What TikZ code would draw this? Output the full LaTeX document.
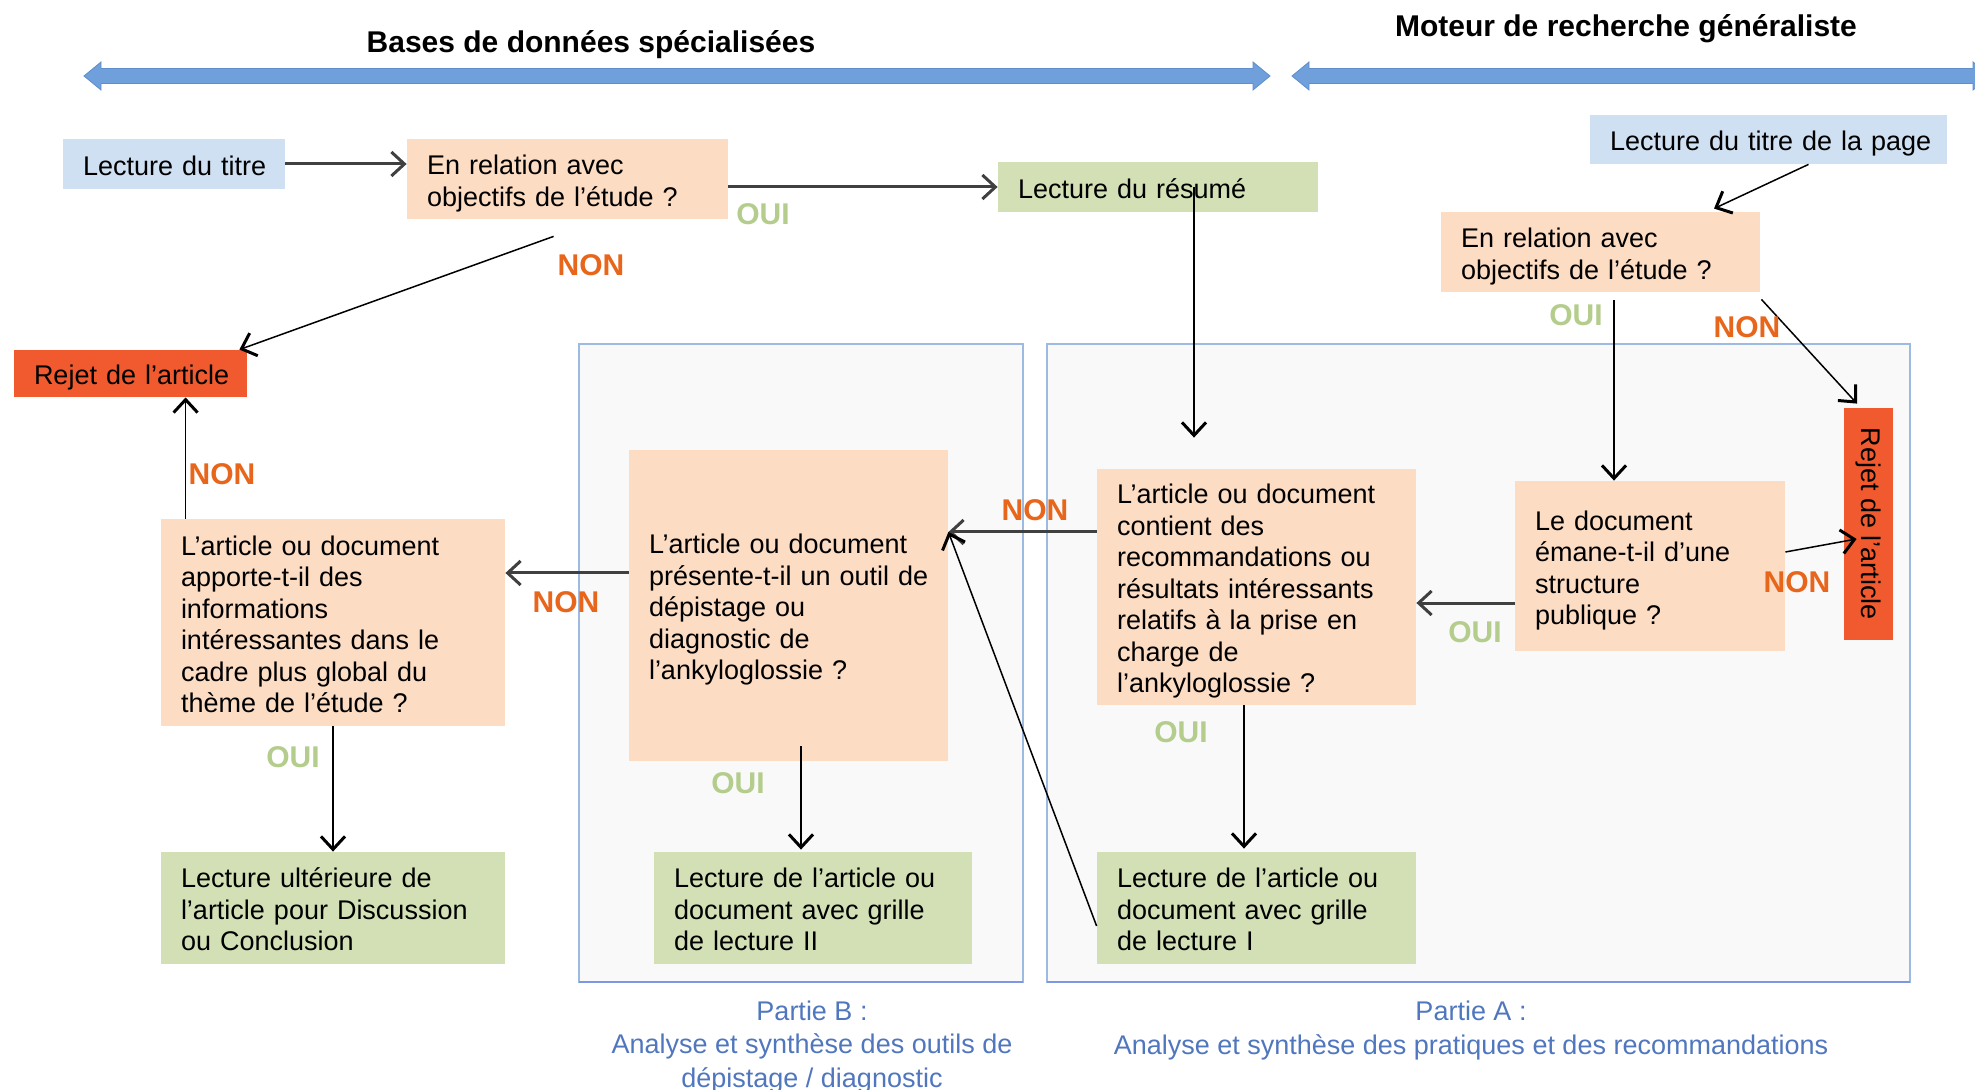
\documentclass[tikz,border=0pt]{standalone}
\usepackage{fontspec}
\setmainfont{Liberation Sans}
\usetikzlibrary{arrows.meta,calc}
\definecolor{peach}{HTML}{FCDCC3}
\definecolor{lblue}{HTML}{CFE0F2}
\definecolor{lgreen}{HTML}{D3E0B5}
\definecolor{rejred}{HTML}{F05A2E}
\definecolor{framefill}{HTML}{F9F9FA}
\definecolor{frameline}{HTML}{9DBBE0}
\definecolor{ouicol}{HTML}{B4CD8C}
\definecolor{noncol}{HTML}{E8661C}
\definecolor{capblue}{HTML}{5077BE}
\definecolor{bigarrow}{HTML}{70A0DC}
\definecolor{bigarrowline}{HTML}{5E8ECC}
\hbadness=10000 \hfuzz=200pt
\tikzset{
  basebox/.style={inner xsep=10pt, inner ysep=0pt, align=left,
    font=\fontsize{13.5}{15.75}\selectfont},
  qbox/.style={basebox, fill=peach},
  tbox/.style={basebox, fill=lblue},
  gbox/.style={basebox, fill=lgreen},
  rbox/.style={basebox, fill=rejred},
  arr/.style={draw=black, line width=0.75pt,
    -{Straight Barb[length=6.5pt,width=12pt,line width=1.5pt]}},
  arrT/.style={arr, line width=1.5pt, draw=black!75},
  ouilabel/.style={text=ouicol, font=\fontsize{15}{16}\selectfont\bfseries},
  nonlabel/.style={text=noncol, font=\fontsize{15}{16}\selectfont\bfseries},
  captext/.style={text=capblue, align=center, font=\fontsize{13.5}{16.7}\selectfont},
  htitle/.style={font=\fontsize{15}{17}\selectfont\bfseries},
  frbox/.style={fill=framefill, draw=frameline, line width=1pt},
}
\newcommand\boxnode[7]{%
  \pgfmathsetmacro\bw{(#4-#2)*0.5}%
  \pgfmathsetmacro\bh{(#5-#3)*0.5}%
  \pgfmathsetmacro\tw{(#4-#2)*0.5-20}%
  \node[#6, minimum width=\bw pt, minimum height=\bh pt, text width=\tw pt]
    (#1) at ({(#2+#4)/2},{(#3+#5)/2})
    {\raisebox{-2.5pt}[\height][\depth]{\begin{tabular}{@{}l@{}}#7\end{tabular}}};}
\newcommand\blockarrow[2]{%
  \fill[bigarrow, draw=bigarrowline, line width=0.4pt]
    (#1,76) -- (#1+17,62) -- (#1+17,68.5) -- (#2-17,68.5) -- (#2-17,62) -- (#2,76)
    -- (#2-17,90) -- (#2-17,83.5) -- (#1+17,83.5) -- (#1+17,90) -- cycle;}
\begin{document}
\begin{tikzpicture}[x=0.5pt,y=-0.5pt]
\useasboundingbox (0,0) rectangle (1975,1090);
\clip (0,0) rectangle (1975,1090);
\fill[white] (0,0) rectangle (1975,1090);

% headers
\node[htitle] (h1) at (591,45) {Bases de données spécialisées};
\node[htitle] (h2) at (1626,29) {Moteur de recherche généraliste};
\blockarrow{84}{1270}
\blockarrow{1292}{1990}

% frames
\draw[frbox] (579,344) rectangle (1023,982);
\draw[frameline!80!blue, line width=1.2pt] (579,982) -- (1023,982);
\draw[frbox] (1047,344) rectangle (1910,982);
\draw[frameline!80!blue, line width=1.2pt] (1047,982) -- (1910,982);

% boxes
\boxnode{tit1}{63}{139}{285}{189}{tbox}{Lecture du titre}
\boxnode{rel1}{407}{139}{728}{219}{qbox}{En relation avec\\objectifs de l'étude ?}
\boxnode{resume}{998}{162}{1318}{212}{gbox}{Lecture du résumé}
\boxnode{rej1}{14}{350}{247}{397}{rbox}{Rejet de l'article}
\boxnode{qL}{161}{519}{505}{726}{qbox}{L’article ou document\\apporte-t-il des\\informations\\intéressantes dans le\\cadre plus global du\\thème de l'étude ?}
\boxnode{lecU}{161}{852}{505}{964}{gbox}{Lecture ultérieure de\\l'article pour Discussion\\ou Conclusion}
\boxnode{qB}{629}{450}{948}{761}{qbox}{L’article ou document\\présente-t-il un outil de\\dépistage ou\\diagnostic de\\l'ankyloglossie ?}
\boxnode{lecII}{654}{852}{972}{964}{gbox}{Lecture de l'article ou\\document avec grille\\de lecture II}
\boxnode{qA}{1097}{469}{1416}{705}{qbox}{L’article ou document\\contient des\\recommandations ou\\résultats intéressants\\relatifs à la prise en\\charge de\\l'ankyloglossie ?}
\boxnode{lecI}{1097}{852}{1416}{964}{gbox}{Lecture de l'article ou\\document avec grille\\de lecture I}
\boxnode{titP}{1590}{115}{1947}{164}{tbox}{Lecture du titre de la page}
\boxnode{rel2}{1441}{212}{1760}{292}{qbox}{En relation avec\\objectifs de l'étude ?}
\boxnode{leDoc}{1515}{481}{1785}{651}{qbox}{Le document\\émane-t-il d’une\\structure\\publique ?}
\node[basebox, fill=rejred, inner xsep=0pt, minimum width=24.5pt, minimum height=116pt]
  (rej2) at (1868.5,524) {\rotatebox{-90}{Rejet de l'article}};

% connectors
\draw[arrT] (tit1.east) -- (tit1.east -| rel1.west);
\draw[arrT] (resume.west -| rel1.east) -- (resume.west);
\draw[arr] ($(rel1.south west)+(147,17)$) -- ($(rej1.north east)+(-8,0)$);
\coordinate (a1) at ($(qL.north west)+(25,0)$);
\draw[arr] (a1) -- (a1 |- rej1.south);
\draw[arr] (qL.south) -- (lecU.north);
\coordinate (b1) at ($(qB.west)+(0,-32.5)$);
\draw[arrT] (b1) -- (b1 -| qL.east);
\draw[arr] ($(qB.south)+(12.5,-15)$) -- ($(lecII.north)+(-12,-2)$);
\coordinate (r1) at ($(resume.center)+(36,0)$);
\draw[arr] (r1) -- ($(r1 |- qA.north)+(0,-31)$);
\coordinate (m1) at ($(qA.west)+(0,-55)$);
\draw[arrT] (m1) -- (m1 -| qB.east);
\draw[arr] ($(lecI.west)+(0,18)$) -- (m1 -| qB.east);
\draw[arr] ($(qA.south)+(-12.5,0)$) -- ($(lecI.north)+(-12.5,-3)$);
\draw[arr] ($(titP.south)+(40,0)$) -- ($(rel2.north)+(113.5,-3)$);
\coordinate (o2) at ($(rel2.south)+(13.5,8)$);
\draw[arr] (o2) -- (o2 |- leDoc.north);
\draw[arr] ($(rel2.south east)+(1,7)$) -- ($(rej2.north)+(-11.5,-4)$);
\draw[arr] ($(leDoc.east)+(0,-14)$) -- ($(rej2.west)+(13,15)$);
\coordinate (p1) at ($(leDoc.west)+(0,37)$);
\draw[arrT] (p1) -- (p1 -| qA.east);

% labels
\node[ouilabel] (o-a) at (763,214) {OUI};
\node[nonlabel] (n-a) at (591,265) {NON};
\node[nonlabel] (n-b) at (222,474) {NON};
\node[nonlabel] (n-c) at (566,602) {NON};
\node[ouilabel] (o-b) at (293,757) {OUI};
\node[ouilabel] (o-c) at (738,783) {OUI};
\node[nonlabel] (n-d) at (1035,510) {NON};
\node[ouilabel] (o-d) at (1181,732) {OUI};
\node[ouilabel] (o-e) at (1576,315) {OUI};
\node[nonlabel] (n-e) at (1747,327) {NON};
\node[nonlabel] (n-f) at (1797,582) {NON};
\node[ouilabel] (o-f) at (1475,632) {OUI};

% captions
\node[captext] (capB) at (812,1047) {Partie B :\\Analyse et synthèse des outils de\\dépistage / diagnostic};
\node[captext, anchor=north] (capA) at (1471,994) {Partie A :\\Analyse et synthèse des pratiques et des recommandations};
\end{tikzpicture}
\end{document}
